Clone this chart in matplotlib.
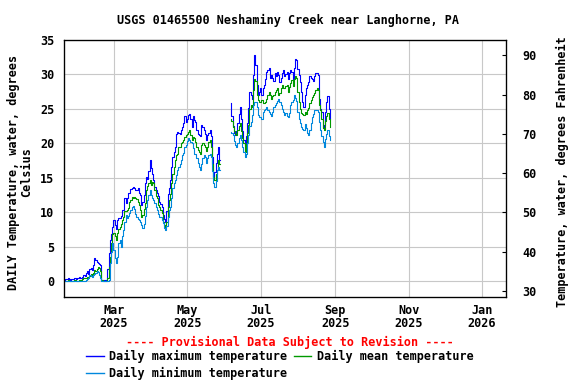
import numpy as np
import pandas as pd
import matplotlib
matplotlib.use('Agg')
import matplotlib.pyplot as plt
import matplotlib.dates as mdates
from matplotlib.lines import Line2D

# Daten: Tageswerte in Grad Celsius, erster Abschnitt ab 19.01.2025,
# dann 8 Tage Luecke, zweiter Abschnitt ab 06.06.2025
start_spring = '2025-01-19'
start_summer = '2025-06-06'

max_spring = [0.2, 0.3, 0.3, 0.4, 0.3, 0.2, 0.3, 0.3, 0.5, 0.4, 0.3,
              0.5, 0.6, 0.5, 0.4,
              0.6, 0.9, 0.7, 1.2, 1.4, 1.0, 1.8, 1.9, 1.6, 2.3, 3.3, 3.0, 2.8, 2.6, 2.5, 2.3,
              0.2, 0.15, 0.2, 0.15, 0.2,
              1.8, 4.0, 6.0, 6.9, 7.9, 8.9, 8.1, 7.5, 8.9, 9.2,
              9.1, 9.5, 10.3, 10.3, 12.0, 11.3, 12.0, 12.8, 12.8, 13.3,
              13.5, 13.7, 13.5, 13.2, 13.2, 13.5, 12.8, 12.5, 11.0, 11.5,
              12.5, 14.2, 15.1, 14.8, 16.0, 17.6, 16.4, 15.5, 14.7, 13.7,
              13.2, 12.8, 12.3, 11.5, 11.2, 10.8, 9.6, 9.0, 8.6, 10.1,
              12.7, 13.5, 14.7, 16.6, 18.0, 18.8, 19.5, 21.4, 21.7, 21.5,
              21.3, 21.9, 22.3, 22.9, 23.9, 23.1, 23.6, 24.1, 24.3, 23.5,
              22.4, 23.9, 23.4, 23.1, 21.9, 21.4, 21.2, 21.0, 22.7, 22.3,
              22.0, 21.4, 20.5, 21.2, 21.5, 21.9, 21.0, 18.0, 15.1, 15.8,
              17.1, 18.5, 19.5, 17.6]
mean_spring = [0.05, 0.05, 0.05, 0.1, 0.05, 0.05, 0.05, 0.05, 0.1, 0.1, 0.05, 0.05, 0.1, 0.1,
               0.1, 0.3, 0.5, 0.4, 0.5, 0.6, 0.5, 0.8, 1.0, 0.9, 1.2, 1.6, 1.4, 1.8, 2.0, 1.9, 1.5,
               0.1, 0.05, 0.05, 0.05, 0.05,
               0.5, 2.0, 3.5, 5.5, 6.9, 7.0, 6.5, 6.0, 7.0, 7.5,
               7.9, 8.3, 8.9, 9.3, 10.1, 10.1, 10.3, 10.6, 11.5, 11.8,
               12.2, 12.0, 12.2, 12.0, 11.9, 11.5, 11.0, 10.3, 9.3, 9.6,
               10.5, 11.3, 13.2, 13.8, 14.2, 14.7, 14.0, 14.4, 14.2, 13.2,
               12.3, 12.0, 11.0, 10.8, 10.3, 9.9, 8.6, 8.2, 7.9, 8.6,
               10.8, 11.8, 12.7, 14.2, 15.6, 16.6, 17.6, 18.3, 18.5, 19.5,
               19.5, 20.0, 20.2, 20.5, 20.9, 21.2, 21.4, 21.6, 21.9, 21.2,
               20.5, 20.9, 20.7, 20.2, 19.5, 19.0, 18.8, 18.5, 19.8, 20.0,
               19.8, 19.5, 18.9, 19.5, 20.2, 20.5, 19.5, 17.0, 15.1, 14.7,
               15.5, 16.1, 17.6, 17.0]
min_spring = [0.05] * 18 + \
             [0.1, 0.3, 0.5, 0.9, 0.7, 0.6, 0.9, 1.0, 1.2, 1.4, 1.3, 0.9, 0.5] + \
             [0.05] * 6 + \
             [0.2, 2.6, 4.2, 5.5, 4.5, 3.3, 2.6, 3.5, 5.5,
              6.0, 5.0, 6.5, 7.4, 8.5, 9.6, 9.2, 9.5, 9.9, 10.3,
              10.8, 10.9, 10.5, 9.8, 9.3, 9.0, 8.8, 8.6, 8.1, 7.7,
              8.3, 9.5, 10.8, 11.8, 12.5, 13.2, 12.5, 12.0, 11.8, 11.3,
              10.8, 10.3, 9.8, 9.3, 9.3, 8.9, 8.4, 7.7, 7.4, 8.0,
              9.3, 10.3, 10.8, 12.0, 13.5, 14.2, 14.7, 15.4, 16.1, 16.6,
              17.0, 17.6, 18.3, 18.6, 19.5, 19.8, 20.3, 20.7, 20.5, 20.2,
              20.0, 19.3, 18.5, 18.5, 17.8, 17.1, 16.5, 16.1, 17.0, 17.8,
              18.3, 18.0, 17.1, 17.8, 18.3, 18.5, 18.0, 16.0, 14.2, 13.7,
              14.5, 16.1, 16.5, 16.1]

max_summer = [25.8, 23.9, 22.5, 21.5, 21.2, 21.8, 23.0, 24.2, 25.3, 23.5,
              21.8, 20.5, 19.7, 21.0, 23.0, 25.1, 27.5, 27.0, 26.5, 29.9,
              32.8, 31.4, 28.5, 27.0, 27.5, 28.0, 27.0, 28.0, 28.5, 29.4,
              30.4, 30.6, 30.9, 29.5, 29.9, 29.5, 29.0, 30.2, 29.7, 30.4,
              29.9, 28.9, 29.5, 30.2, 30.6, 29.7, 30.0, 30.4, 29.4, 30.2,
              30.6, 30.4, 29.4, 31.0, 32.3, 32.1, 30.8, 29.9, 28.9, 27.5,
              26.0, 25.3, 27.0, 28.0, 28.5, 28.9, 29.7, 29.5, 29.4, 29.0,
              29.7, 30.2, 30.2, 29.9, 26.5, 25.0, 24.6, 22.2, 22.7, 24.5,
              26.0, 26.8, 25.0, 23.6]
mean_summer = [23.6, 23.2, 22.4, 21.8, 21.4, 21.2, 21.9, 22.5, 22.9, 21.8,
               20.8, 20.0, 18.8, 19.9, 21.5, 22.7, 25.0, 25.6, 25.3, 27.7,
               29.4, 29.0, 27.0, 26.3, 26.0, 26.0, 26.3, 25.8, 25.8, 26.0,
               26.5, 27.0, 27.5, 27.0, 26.5, 26.8, 27.0, 27.5, 27.8, 28.0,
               27.0, 27.3, 28.0, 28.5, 28.0, 28.0, 28.3, 28.5, 27.5, 28.2,
               28.8, 29.2, 28.3, 29.3, 29.7, 29.5, 27.5, 26.0, 25.0, 24.4,
               24.2, 24.1, 24.6, 24.3, 24.8, 25.1, 25.8, 26.3, 26.7, 27.0,
               27.3, 27.7, 28.0, 27.8, 25.6, 24.8, 23.5, 22.2, 22.0, 23.2,
               23.9, 24.4, 23.5, 22.4]
min_summer = [21.7, 21.5, 21.2, 20.3, 19.7, 19.4, 20.0, 20.8, 21.2, 20.5,
              19.5, 18.8, 18.0, 18.5, 20.0, 21.2, 22.5, 23.1, 24.1, 25.6,
              26.0, 26.0, 25.3, 24.1, 23.8, 23.8, 23.6, 24.6, 24.8, 25.0,
              25.2, 24.8, 24.6, 24.3, 24.0, 24.5, 25.2, 25.6, 25.8, 26.2,
              26.5, 26.0, 25.5, 25.0, 24.5, 24.1, 24.4, 24.0, 23.8, 24.4,
              25.5, 26.0, 26.3, 27.0, 26.6, 26.2, 24.6, 23.5, 22.9, 22.4,
              22.1, 21.9, 22.8, 22.2, 21.5, 21.2, 22.0, 23.0, 23.8, 24.3,
              24.8, 24.9, 24.8, 24.6, 23.1, 22.0, 21.0, 20.2, 19.5, 20.6,
              21.4, 21.9, 21.0, 20.5]

tick_dates = ['2025-03-01', '2025-05-01', '2025-07-01', '2025-09-01', '2025-11-01', '2026-01-01']
tick_labels = ['Mar\n2025', 'May\n2025', 'Jul\n2025', 'Sep\n2025', 'Nov\n2025', 'Jan\n2026']

labels = ['Daily maximum temperature', 'Daily mean temperature', 'Daily minimum temperature']
colors = ['#0000ff', '#009900', '#0088dd']

plt.rcParams['font.family'] = 'DejaVu Sans Mono'
plt.rcParams['font.weight'] = 'bold'
plt.rcParams['font.size'] = 8.5

d1 = pd.date_range(start_spring, periods=len(max_spring))
d2 = pd.date_range(start_summer, periods=len(max_summer))

fig = plt.figure(figsize=(5.76, 3.84), dpi=100)
ax = fig.add_axes([64/576, 1 - 297/384, 442/576, 257/384])

series = [(max_spring, max_summer), (mean_spring, mean_summer), (min_spring, min_summer)]
for (a, b), c in zip(series, colors):
    ax.plot(d1, a, color=c, lw=0.8, drawstyle='steps-mid')
    ax.plot(d2, b, color=c, lw=0.8, drawstyle='steps-mid')

ax.set_xlim(pd.Timestamp('2025-01-18 08:00'), pd.Timestamp('2026-01-21'))
ax.set_ylim(-2.32, 35)
ax.set_yticks(range(0, 36, 5))
ax.set_xticks(pd.to_datetime(tick_dates))
ax.set_xticklabels(tick_labels, fontweight='bold', linespacing=1.0)
ax.grid(True, color='#c8c8c8', lw=0.8)
ax.tick_params(axis='both', length=0)
ax.tick_params(axis='y', pad=7)
ax.tick_params(axis='x', pad=5)
for s in ax.spines.values():
    s.set_linewidth(0.9)

ax2 = ax.twinx()
ax2.set_ylim(28.47, 93.87)
ax2.set_yticks(range(30, 91, 10))
ax2.tick_params(axis='y', direction='in', length=3, width=0.8, pad=12)

fig.text(0.5, 1 - 20/384, 'USGS 01465500 Neshaminy Creek near Langhorne, PA',
         ha='center', va='center', fontweight='bold')
fig.text(0.035, 1 - 172/384, 'DAILY Temperature, water, degrees\nCelsius',
         rotation=90, ha='center', va='center', multialignment='center',
         fontweight='bold', linespacing=1.0)
fig.text(0.976, 1 - 172/384, 'Temperature, water, degrees Fahrenheit',
         rotation=90, ha='center', va='center', fontweight='bold')
fig.text(0.503, 1 - 342/384, '---- Provisional Data Subject to Revision ----',
         ha='center', va='center', color='red', fontweight='bold')

handles = [Line2D([], [], color=colors[0], lw=1),
           Line2D([], [], color=colors[2], lw=1),
           Line2D([], [], color=colors[1], lw=1)]
fig.legend(handles, [labels[0], labels[2], labels[1]], ncol=2, loc='upper left',
           bbox_to_anchor=(86/576, 1 - 350/384), frameon=False, borderpad=0,
           borderaxespad=0, handlelength=1.5, handletextpad=0.45,
           columnspacing=0.55, labelspacing=0.35,
           prop={'family': 'DejaVu Sans Mono', 'weight': 'bold', 'size': 8.5})

fig.savefig('out.png', dpi=100)
